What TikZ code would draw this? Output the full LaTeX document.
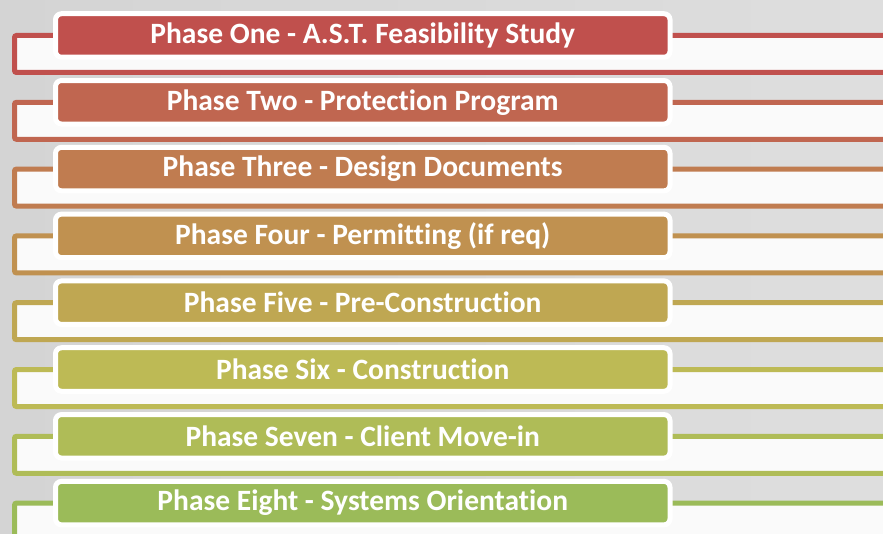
\documentclass[tikz,border=0pt]{standalone}
\usepackage{fontspec}
\setmainfont{Carlito}[RawFeature={-liga}]
\usetikzlibrary{shadows}
\definecolor{bgL}{HTML}{D4D4D4}
\definecolor{bgR}{HTML}{DEDEDE}
\definecolor{boxfill}{HTML}{FAFAFA}
\definecolor{c1}{HTML}{C0504D}
\definecolor{c2}{HTML}{C06650}
\definecolor{c3}{HTML}{C07C50}
\definecolor{c4}{HTML}{C09150}
\definecolor{c5}{HTML}{BFA752}
\definecolor{c6}{HTML}{BDBA55}
\definecolor{c7}{HTML}{AFBC57}
\definecolor{c8}{HTML}{9BBB59}
\begin{document}
\begin{tikzpicture}[x=1pt,y=-1pt,
  backbox/.style={draw=#1, fill=boxfill, line width=5pt, rounded corners=2pt,
    minimum width=900pt, minimum height=37pt, inner sep=0pt, anchor=west},
  phasebox/.style={draw=white, fill=#1, line width=5pt, rounded corners=6pt,
    minimum width=614.5pt, minimum height=43.5pt, inner sep=0pt,
    text=white, font=\fontsize{29.5}{32}\selectfont\bfseries,
    drop shadow={shadow xshift=1pt, shadow yshift=-1.5pt, opacity=0.25}}]
\useasboundingbox (0,0) rectangle (883,534);
\clip (0,0) rectangle (883,534);
\shade[left color=bgL, right color=bgR] (0,0) rectangle (883,534);
\foreach \i/\c/\t in {0/c1/{Phase One - A.S.T. Feasibility Study},
                     1/c2/{Phase Two - Protection Program},
                     2/c3/{Phase Three - Design Documents},
                     3/c4/{Phase Four - Permitting (if req)},
                     4/c5/{Phase Five - Pre-Construction},
                     5/c6/{Phase Six - Construction},
                     6/c7/{Phase Seven - Client Move-in},
                     7/c8/{Phase Eight - Systems Orientation}}{
  \node[backbox=\c] (b\i) at (12,{54+66.8*\i}) {};
  \node[phasebox=\c] (p\i) at (362.75,{35.5+66.8*\i}) {\t};
}
\end{tikzpicture}
\end{document}
